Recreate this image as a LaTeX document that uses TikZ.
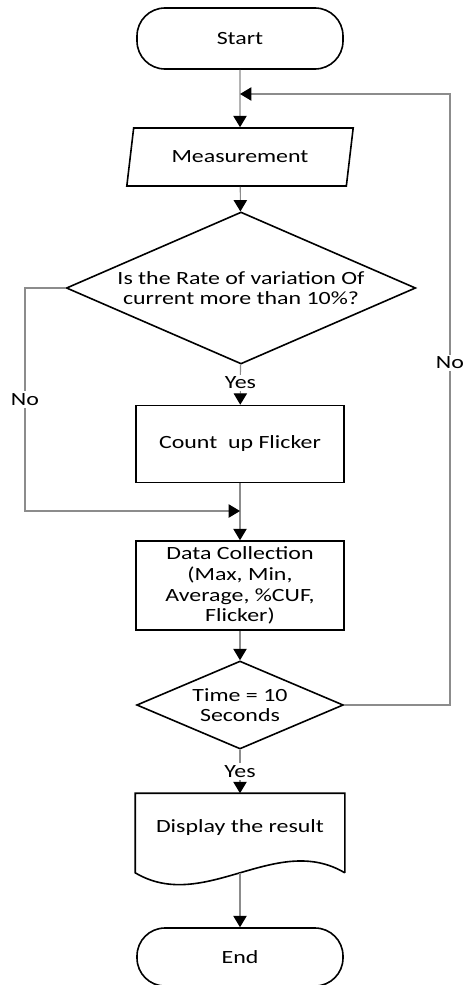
\documentclass[tikz,border=0pt]{standalone}
\usepackage{fontspec}
\setmainfont{Carlito}[FakeStretch=1.28]
\usetikzlibrary{shapes.geometric,arrows.meta,calc}

\begin{document}
\begin{tikzpicture}[x=0.75pt,y=-0.75pt,
		font={\fontsize{14}{15.5}\selectfont},
		box/.style={draw,line width=1.2pt,align=center,inner sep=0pt},
		term/.style={box,rectangle,rounded corners=21pt,minimum width=154.5pt},
		io/.style={box,trapezium,trapezium left angle=70,trapezium right angle=110,trapezium stretches=true,minimum width=170pt,minimum height=43.5pt},
		proc/.style={box,rectangle,minimum width=156pt},
		decision/.style={box,diamond},
		flow/.style={draw=gray!90,line width=0.8pt,-{Triangle[length=8.5pt,width=10pt,fill=black,color=black]}},
		lbl/.style={fill=white,inner sep=1.5pt}]

	\useasboundingbox (0,0) rectangle (468,985);

	\node[term,minimum height=45.75pt] (start) at (240,38.5) {Start};
	\node[io] (meas) at (240,157) {Measurement};
	\node[decision,shape aspect=2.3,minimum width=262pt,minimum height=114pt] (dec1) at (241,288) {Is the Rate of variation Of\\current more than 10\%?};
	\node[proc,minimum height=57.75pt] (count) at (240,444) {Count~ up Flicker};
	\node[proc,minimum height=66.75pt] (data) at (240,585.5) {Data Collection\\(Max, Min,\\Average, \%CUF,\\Flicker)};
	\node[decision,shape aspect=2.35,minimum width=155pt,minimum height=66pt] (dec2) at (240,705) {Time = 10\\Seconds};
	\node[proc,draw=none,minimum height=51pt] (disp) at (240,828) {Display the result};
	\node[term,minimum height=43.5pt] (end) at (240,957) {End};

	% document shape with a wavy bottom edge
	\draw[line width=1.2pt] ($(disp.south east)+(0,10)$) -- (disp.north east) -- (disp.north west) -- ($(disp.south west)+(0,10)$)
		.. controls ($(disp.south west)+(69,51)$) and ($(disp.south east)+(-69,-31)$) .. ($(disp.south east)+(0,10)$);
	\coordinate (dispb) at ($(disp.south)+(0,10)$);

	\coordinate (join) at (240,94);
	\coordinate (rtop) at (450,94);
	\coordinate (merge) at (240,511);
	\coordinate (lbot) at (25,511);

	\draw[flow] (start) -- (meas);
	\draw[flow] (meas) -- (dec1);
	\draw[flow] (dec1) -- node[lbl,pos=0.45]{Yes} (count);
	\draw[flow] (count) -- (data);
	\draw[flow] (dec1.west) -| node[lbl,pos=0.75]{No} (lbot) -- (merge);
	\draw[flow] (data) -- (dec2);
	\draw[flow] (dec2) -- node[lbl,pos=0.5]{Yes} (disp);
	\draw[flow] (dec2.east) -| node[lbl,pos=0.78]{No} (rtop) -- (join);
	\draw[flow] (dispb) -- (end);

\end{tikzpicture}
\end{document}
